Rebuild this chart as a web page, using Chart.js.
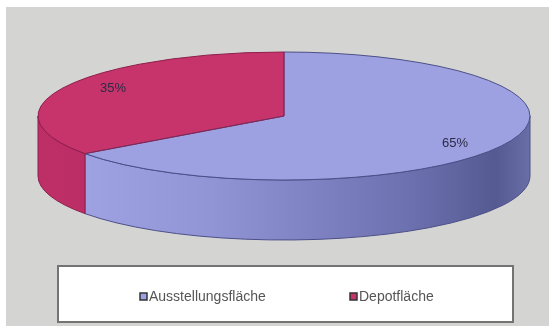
<!DOCTYPE html>
<html>
<head>
<meta charset="utf-8">
<script src="https://cdn.jsdelivr.net/npm/chart.js@4/dist/chart.umd.min.js"></script>
<style>
  html, body { margin: 0; padding: 0; background: #ffffff; }
  #wrap { width: 549px; height: 326px; }
</style>
</head>
<body>
<div id="wrap"><canvas id="myChart" width="549" height="326"></canvas></div>
<script>
// Flächenaufteilung
var labels = ["Ausstellungsfläche", "Depotfläche"];
var shares = [65, 35];

var topColors = ["#9da1e1", "#c6346b"];
var edgeColors = ["#4c5088", "#8e1f4c"];

// ellipse of the pie top, and height of the wall
var CX = 284, CY = 116, RX = 246, RY = 64, DEPTH = 60;

var wallFill = function (ctx, i) {
  var g = ctx.createLinearGradient(CX - RX, 0, CX + RX, 0);
  if (i === 0) {
    g.addColorStop(0, "#a3a7e6");
    g.addColorStop(0.35, "#9195d6");
    g.addColorStop(0.75, "#6d71b0");
    g.addColorStop(0.93, "#565a92");
    g.addColorStop(1, "#6a6ea6");
  } else {
    g.addColorStop(0, "#bd2f66");
    g.addColorStop(1, "#b02a5e");
  }
  return g;
};

var pie3d = {
  id: "pie3d",
  beforeDraw: function (chart) {
    var ctx = chart.ctx;
    ctx.save();
    ctx.fillStyle = "#ffffff";
    ctx.fillRect(0, 0, chart.width, chart.height);
    ctx.fillStyle = "#d4d4d2";
    ctx.fillRect(6, 7, chart.width - 6, chart.height - 7);
    ctx.restore();
  },
  beforeDatasetsDraw: function (chart) {
    var ctx = chart.ctx;
    var arcs = chart.getDatasetMeta(0).data;

    // front wall of every slice that faces the viewer
    arcs.forEach(function (arc, i) {
      var a1 = Math.max(arc.startAngle, 0);
      var a2 = Math.min(arc.endAngle, Math.PI);
      if (a2 <= a1) return;
      ctx.save();
      ctx.beginPath();
      ctx.ellipse(CX, CY, RX, RY, 0, a1, a2);
      ctx.ellipse(CX, CY + DEPTH, RX, RY, 0, a2, a1, true);
      ctx.closePath();
      ctx.fillStyle = wallFill(ctx, i);
      ctx.fill();
      ctx.strokeStyle = edgeColors[i];
      ctx.lineWidth = 1;
      ctx.stroke();
      ctx.restore();
    });

    // squash the flat pie onto the top ellipse
    var a = arcs[0];
    ctx.save();
    ctx.translate(CX, CY);
    ctx.scale(RX / a.outerRadius, RY / a.outerRadius);
    ctx.translate(-a.x, -a.y);
  },
  afterDatasetsDraw: function (chart) {
    var ctx = chart.ctx;
    ctx.restore();
    var arcs = chart.getDatasetMeta(0).data;

    arcs.forEach(function (arc, i) {
      ctx.save();
      ctx.beginPath();
      ctx.moveTo(CX, CY);
      ctx.ellipse(CX, CY, RX, RY, 0, arc.startAngle, arc.endAngle);
      ctx.closePath();
      ctx.strokeStyle = edgeColors[i];
      ctx.lineWidth = 1;
      ctx.stroke();
      ctx.restore();
    });

    // value labels
    ctx.save();
    ctx.font = "13px 'Liberation Sans', Arial, sans-serif";
    ctx.fillStyle = "#2b2b45";
    ctx.textAlign = "center";
    ctx.textBaseline = "middle";
    arcs.forEach(function (arc, i) {
      var mid = (arc.startAngle + arc.endAngle) / 2;
      var lx = CX + RX * 0.78 * Math.cos(mid);
      var ly = CY + RY * 0.96 * Math.sin(mid);
      ctx.fillText(chart.data.datasets[0].data[i] + "%", lx, ly);
    });
    ctx.restore();
  },
  afterDraw: function (chart) {
    var ctx = chart.ctx;
    ctx.save();
    // legend frame
    ctx.fillStyle = "#ffffff";
    ctx.fillRect(58, 266, 455, 56);
    ctx.strokeStyle = "#737373";
    ctx.lineWidth = 2;
    ctx.strokeRect(58, 266, 455, 56);

    var itemX = [140, 350];
    ctx.font = "14px 'Liberation Sans', Arial, sans-serif";
    ctx.textBaseline = "middle";
    chart.data.labels.forEach(function (lab, i) {
      var x = itemX[i];
      ctx.fillStyle = topColors[i];
      ctx.fillRect(x, 293, 7, 7);
      ctx.strokeStyle = "#333333";
      ctx.lineWidth = 1.5;
      ctx.strokeRect(x, 293, 7, 7);
      ctx.fillStyle = "#555555";
      ctx.fillText(lab, x + 9, 297.5);
    });
    ctx.restore();
  }
};

new Chart(document.getElementById("myChart").getContext("2d"), {
  type: "pie",
  data: {
    labels: labels,
    datasets: [
      {
        data: shares,
        backgroundColor: topColors,
        borderWidth: 0,
        clip: false,
      },
    ],
  },
  options: {
    responsive: false,
    animation: false,
    events: [],
    layout: { padding: 0 },
    plugins: {
      legend: { display: false },
      tooltip: { enabled: false },
    },
  },
  plugins: [pie3d],
});
</script>
</body>
</html>
